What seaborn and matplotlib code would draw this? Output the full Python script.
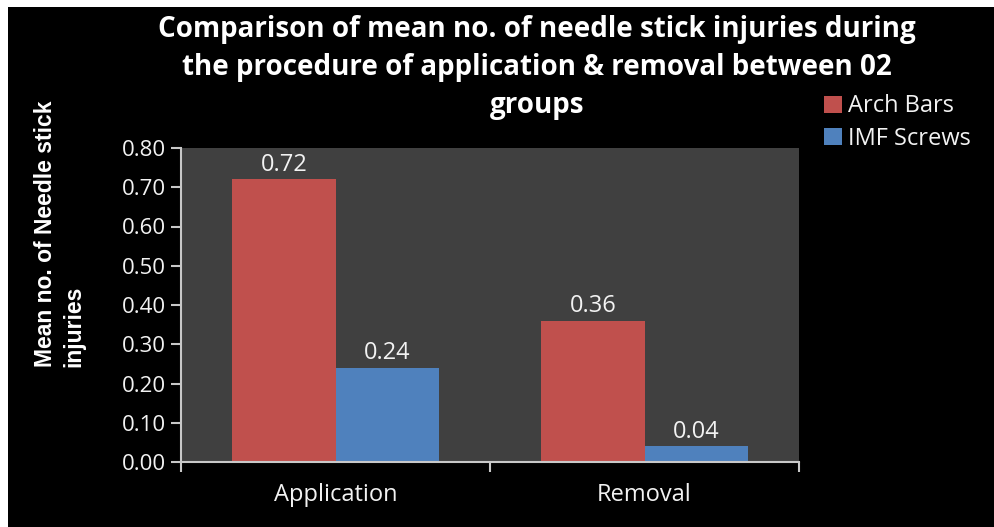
import matplotlib
matplotlib.use("Agg")
import matplotlib.pyplot as plt
from matplotlib.patches import Rectangle
from matplotlib.ticker import FixedLocator, FormatStrFormatter
import seaborn as sns
import pandas as pd

# Data
procedures = ["Application", "Removal"]
groups = ["Arch Bars", "IMF Screws"]
arch_bars = [0.72, 0.36]
imf_screws = [0.24, 0.04]
y_ticks = [0.0, 0.1, 0.2, 0.3, 0.4, 0.5, 0.6, 0.7, 0.8]
title_lines = [
    "Comparison of mean no. of needle stick injuries during",
    "the procedure of application & removal between 02",
    "groups",
]

df = pd.DataFrame({
    "Procedure": procedures * 2,
    "Group": [groups[0]] * 2 + [groups[1]] * 2,
    "Mean": arch_bars + imf_screws,
})

sns.set_theme(style="white")
plt.rcParams["font.family"] = ["Open Sans", "DejaVu Sans"]

fig = plt.figure(figsize=(9.94, 5.27), dpi=100, facecolor="white")
# black chart canvas inside a thin white frame
fig.patches.append(Rectangle((8 / 994, 0), 1, 1 - 7 / 527, transform=fig.transFigure,
                             facecolor="black", edgecolor="none", zorder=-10))

ax = fig.add_axes([181 / 994, 65 / 527, 618 / 994, 314 / 527])
ax.set_facecolor("#404040")

palette = {"Arch Bars": "#C0504D", "IMF Screws": "#4F81BD"}
sns.barplot(data=df, x="Procedure", y="Mean", hue="Group", order=procedures,
            hue_order=groups, palette=palette, width=0.667, gap=0,
            saturation=1, edgecolor="none", linewidth=0, ax=ax, legend=True)

for cont in ax.containers:
    ax.bar_label(cont, labels=[f"{v:.2f}" for v in cont.datavalues], padding=2,
                 color="#f2f2f2", fontsize=17)

ax.set_xlim(-0.5, 1.5)
ax.set_ylim(0, 0.8)
ax.yaxis.set_major_locator(FixedLocator(y_ticks))
ax.yaxis.set_major_formatter(FormatStrFormatter("%.2f"))
ax.xaxis.set_minor_locator(FixedLocator([-0.5, 0.5, 1.5]))

axis_col = "#c8c8c8"
for side in ["top", "right"]:
    ax.spines[side].set_visible(False)
for side in ["left", "bottom"]:
    ax.spines[side].set_color(axis_col)
    ax.spines[side].set_linewidth(1.5)

ax.tick_params(axis="y", which="major", direction="out", length=7, width=1.5,
               color=axis_col, labelcolor="#f2f2f2", labelsize=16, pad=4, left=True)
ax.tick_params(axis="x", which="major", length=0, labelcolor="#f2f2f2",
               labelsize=17, pad=15)
ax.tick_params(axis="x", which="minor", direction="out", length=7, width=1.5,
               color=axis_col, bottom=True)

ax.set_xlabel("")
ax.set_ylabel("")
fig.text(60 / 994, 1 - 234 / 527, "Mean no. of Needle stick\ninjuries",
         rotation=90, ha="center", va="center", color="white", fontsize=16.5,
         fontweight="bold", family=["Liberation Sans", "DejaVu Sans"],
         linespacing=1.3, multialignment="left")

for i, line in enumerate(title_lines):
    fig.text(537 / 994, 1 - (29 + 38 * i) / 527, line, ha="center", va="center",
             color="white", fontsize=20, fontweight="bold")

handles, labels = ax.get_legend_handles_labels()
ax.legend(handles, labels, loc="upper left", bbox_to_anchor=(815 / 994, 1 - 85 / 527),
          bbox_transform=fig.transFigure, frameon=False, fontsize=17,
          labelcolor="#f2f2f2", handlelength=0.75, handleheight=0.75,
          handletextpad=0.25, labelspacing=0.35, borderaxespad=0)

fig.savefig("out.png", dpi=100, facecolor="white")
